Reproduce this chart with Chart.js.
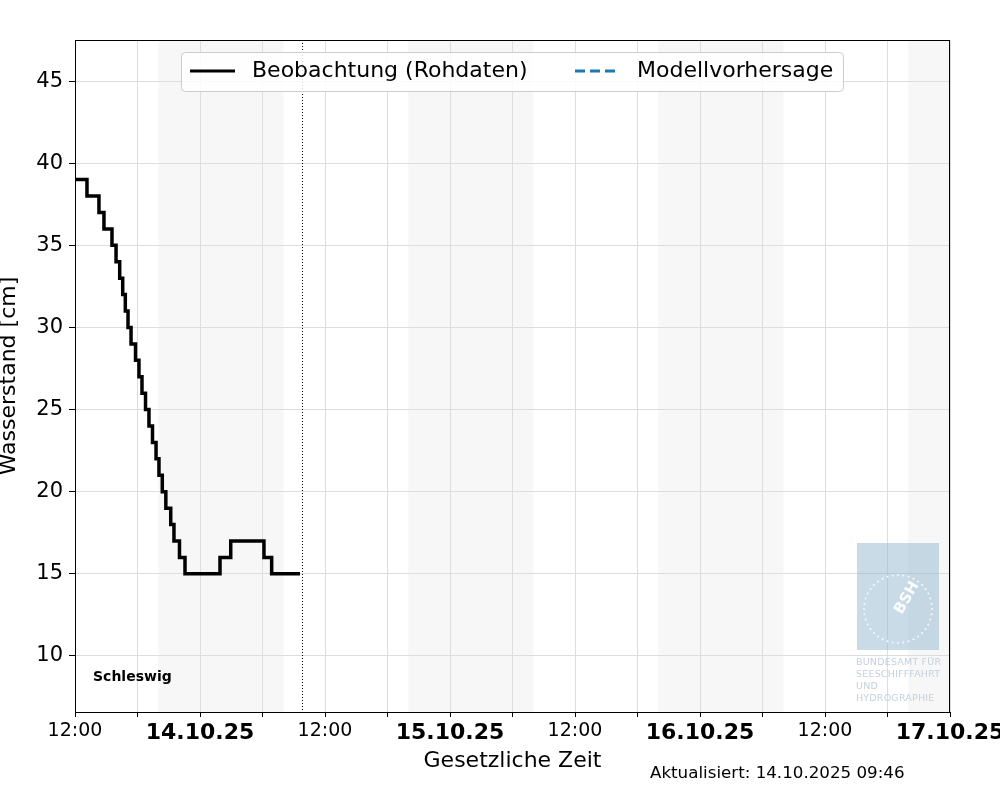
<!DOCTYPE html>
<html>
<head>
<meta charset="utf-8">
<script src="https://cdn.jsdelivr.net/npm/chart.js@4/dist/chart.umd.min.js"></script>
<style>
  html, body { margin: 0; padding: 0; background: #fff; }
  #wrap { width: 1000px; height: 800px; position: relative; }
</style>
</head>
<body>
<div id="wrap"><canvas id="chart" width="1000" height="800"></canvas></div>
<script>
// Wasserstand Schleswig - Beobachtung (Treppenlinie) + leere Modellvorhersage
// x = Stunden seit 13.10.2025 12:00

const obsHours = [0, 1.15, 2.30, 2.78, 3.55, 3.94, 4.29, 4.58, 4.83, 5.09, 5.38, 5.81, 6.14, 6.43,
  6.77, 7.10, 7.44, 7.78, 8.06, 8.38, 8.72, 9.19, 9.50, 10.03, 10.56, 13.92, 14.95, 18.14, 18.88, 21.60];
const obsLevel = [39, 38, 37, 36, 35, 34, 33, 32, 31, 30, 29, 28, 27, 26,
  25, 24, 23, 22, 21, 20, 19, 18, 17, 16, 15, 16, 17, 16, 15, 15];
const forecastHours = [];
const forecastLevel = [];

const xTicks = [0, 6, 12, 18, 24, 30, 36, 42, 48, 54, 60, 66, 72, 78, 84];
const xTickLabels = ['12:00', '', '14.10.25', '', '12:00', '', '15.10.25', '', '12:00', '', '16.10.25', '', '12:00', '', '17.10.25'];
const yTicks = [10, 15, 20, 25, 30, 35, 40, 45];
// Nacht 20:00 - 08:00
const nightStart = [8, 32, 56, 80];
const nightEnd = [20, 44, 68, 84];
const updatedAt = 21.767; // 14.10.2025 09:46

const FONT = "'DejaVu Sans', sans-serif";

const extras = {
  id: 'extras',
  beforeDraw(chart) {
    const {ctx, chartArea: a, scales: {x}} = chart;
    ctx.save();
    ctx.fillStyle = '#f7f7f7';
    for (let i = 0; i < nightStart.length; i++) {
      const x0 = x.getPixelForValue(nightStart[i]), x1 = x.getPixelForValue(nightEnd[i]);
      ctx.fillRect(x0, a.top, x1 - x0, a.bottom - a.top);
    }
    ctx.restore();
  },
  beforeDatasetsDraw(chart) {
    const {ctx} = chart;
    ctx.save();
    // BSH logo
    ctx.fillStyle = 'rgba(150,184,210,0.5)';
    ctx.fillRect(857, 543, 82, 107);
    ctx.fillStyle = 'rgba(255,255,255,0.85)';
    for (let k = 0; k < 40; k++) {
      const ang = k / 40 * Math.PI * 2;
      ctx.beginPath(); ctx.arc(898 + 34 * Math.cos(ang), 609 + 34 * Math.sin(ang), 1, 0, Math.PI * 2); ctx.fill();
    }
    ctx.save();
    ctx.translate(907, 598); ctx.rotate(-Math.PI / 3);
    ctx.font = 'bold 15px ' + FONT; ctx.textAlign = 'center'; ctx.textBaseline = 'middle';
    ctx.fillStyle = 'rgba(255,255,255,0.95)';
    ctx.fillText('BSH', 0, 0);
    ctx.restore();
    ctx.fillStyle = '#c3d1dd'; ctx.font = '9.5px ' + FONT; ctx.textAlign = 'left'; ctx.textBaseline = 'middle';
    ctx.letterSpacing = '0.2px';
    ['BUNDESAMT FÜR', 'SEESCHIFFFAHRT', 'UND', 'HYDROGRAPHIE'].forEach((s, i) => ctx.fillText(s, 856, 663 + i * 11.8));
    ctx.letterSpacing = '0px';
    ctx.restore();
  },
  afterDatasetsDraw(chart) {
    const {ctx, chartArea: a, scales: {x}} = chart;
    ctx.save();
    // dotted "now" line
    const px = Math.round(x.getPixelForValue(updatedAt)) + 0.5;
    ctx.strokeStyle = '#000'; ctx.lineWidth = 1; ctx.setLineDash([1, 2]);
    ctx.beginPath(); ctx.moveTo(px, a.top); ctx.lineTo(px, a.bottom); ctx.stroke();
    ctx.setLineDash([]);
    // frame
    ctx.strokeRect(a.left + 0.5, a.top + 0.5, a.right - a.left - 1, a.bottom - a.top);

    // legend
    ctx.fillStyle = 'rgba(255,255,255,0.85)'; ctx.strokeStyle = '#cccccc';
    ctx.beginPath(); ctx.roundRect(181.5, 52.5, 662, 39, 4); ctx.fill(); ctx.stroke();
    const items = chart.data.datasets;
    const lx = [190, 575];
    ctx.font = '22px ' + FONT; ctx.textBaseline = 'middle'; ctx.textAlign = 'left';
    items.forEach((d, i) => {
      ctx.strokeStyle = d.borderColor; ctx.lineWidth = 3; ctx.setLineDash(d.borderDash || []);
      ctx.beginPath(); ctx.moveTo(lx[i], 71); ctx.lineTo(lx[i] + 45, 71); ctx.stroke();
      ctx.setLineDash([]);
      ctx.fillStyle = '#000';
      ctx.fillText(d.label, lx[i] + 62, 71);
    });

    ctx.font = 'bold 14px ' + FONT; ctx.fillText('Schleswig', 93, 677);
    ctx.font = '16.7px ' + FONT; ctx.fillText('Aktualisiert: 14.10.2025 09:46', 650, 774);
    ctx.restore();
  }
};

new Chart(document.getElementById('chart'), {
  type: 'line',
  data: {
    datasets: [
      { label: 'Beobachtung (Rohdaten)', data: obsHours.map((t, i) => ({x: t, y: obsLevel[i]})),
        borderColor: '#000000', borderWidth: 3.5, stepped: true, pointRadius: 0, fill: false },
      { label: 'Modellvorhersage', data: forecastHours.map((t, i) => ({x: t, y: forecastLevel[i]})),
        borderColor: '#1f77b4', borderWidth: 3, borderDash: [10, 5], pointRadius: 0, fill: false }
    ]
  },
  options: {
    responsive: false, animation: false,
    layout: { padding: { top: 40, right: 50, bottom: 22, left: 0 } },
    plugins: { legend: { display: false }, tooltip: { enabled: false } },
    scales: {
      x: {
        type: 'linear', min: 0, max: 84,
        afterBuildTicks: s => { s.ticks = xTicks.map(v => ({value: v})); },
        afterFit: s => { s.height = 66; s.paddingLeft = 0; s.paddingRight = 0; },
        ticks: {
          autoSkip: false, maxRotation: 0, padding: 3, color: '#000',
          callback: (v, i) => xTickLabels[i],
          font: c => (xTickLabels[c.index] && xTickLabels[c.index].indexOf('.') > 0)
            ? { family: FONT, size: 22, weight: 'bold' } : { family: FONT, size: 19 }
        },
        grid: { color: '#dddddd', tickColor: '#000', tickLength: 5 },
        border: { color: '#000' },
        title: { display: true, text: 'Gesetzliche Zeit', color: '#000', font: { family: FONT, size: 22 }, padding: { top: 0, bottom: 4 } }
      },
      y: {
        min: 6.59, max: 47.5,
        afterBuildTicks: s => { s.ticks = yTicks.map(v => ({value: v})); },
        afterFit: s => { s.width = 75; },
        ticks: { color: '#000', padding: 6, font: { family: FONT, size: 21 } },
        grid: { color: '#dddddd', tickColor: '#000', tickLength: 6 },
        border: { color: '#000' },
        title: { display: true, text: 'Wasserstand [cm]', color: '#000', font: { family: FONT, size: 22, lineHeight: 0.85 }, padding: { top: 0, bottom: 0 } }
      }
    }
  },
  plugins: [extras]
});
</script>
</body>
</html>
